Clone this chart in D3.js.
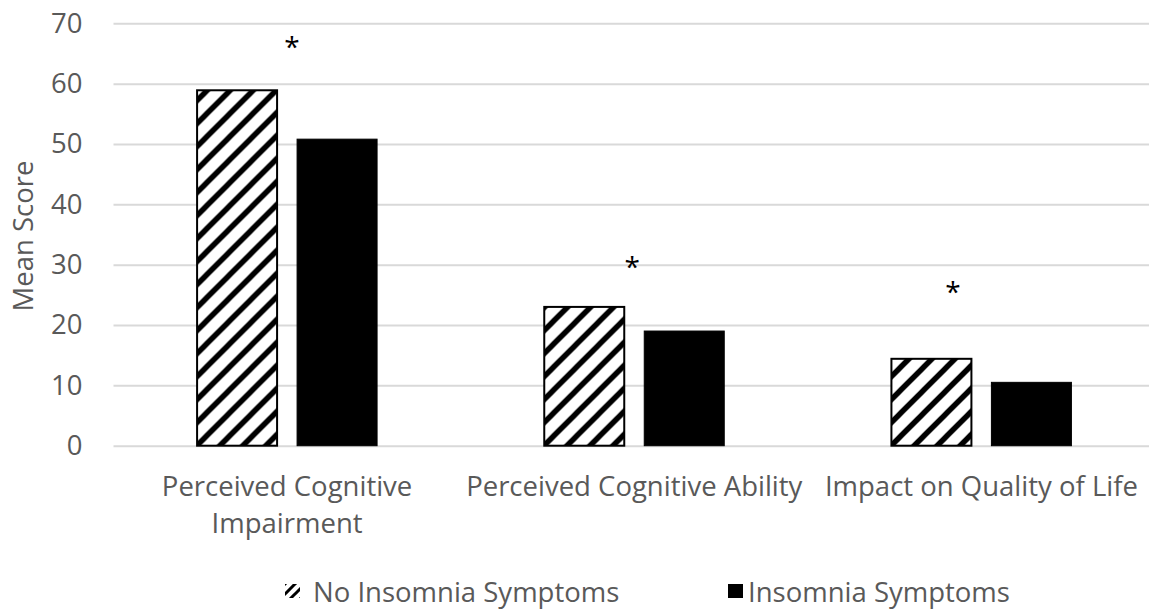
<!DOCTYPE html>
<html>
<head>
<meta charset="utf-8">
<script src="https://cdn.jsdelivr.net/npm/d3@7"></script>
<style>
  body { margin: 0; background: #fff; }
  text { font-family: "Open Sans", sans-serif; }
</style>
</head>
<body>
<svg class="BarChart" width="1149" height="609"></svg>
<script>
// values
var categories = ["Perceived Cognitive Impairment", "Perceived Cognitive Ability", "Impact on Quality of Life"];
var seriesNames = ["No Insomnia Symptoms", "Insomnia Symptoms"];
var noInsomnia = [58.9, 23.0, 14.4];
var insomnia = [50.8, 19.0, 10.5];
var yTicks = [0, 10, 20, 30, 40, 50, 60, 70];
var significant = [true, true, true];
var starValues = [67.2, 30.7, 26.6];

var meta = {};
meta['left'] = 113.5;
meta['right'] = 1155;
meta['top'] = 23.3;
meta['bottom'] = 445.7;
meta['font'] = '27.5px';

var svg = d3.select(".BarChart");

var defs = svg.append('defs');
var hatch = defs.append('pattern')
    .attr('id', 'hatch')
    .attr('patternUnits', 'userSpaceOnUse')
    .attr('width', 23)
    .attr('height', 23);
hatch.append('rect').attr('width', 23).attr('height', 23).attr('fill', '#fff');
hatch.append('path')
    .attr('d', 'M-6,6 L6,-6 M0,23 L23,0 M17,29 L29,17')
    .attr('stroke', '#000')
    .attr('stroke-width', 5.5);

var hatchSmall = defs.append('pattern')
    .attr('id', 'hatchSmall')
    .attr('patternUnits', 'userSpaceOnUse')
    .attr('width', 10)
    .attr('height', 10);
hatchSmall.append('rect').attr('width', 10).attr('height', 10).attr('fill', '#fff');
hatchSmall.append('path')
    .attr('d', 'M-3,3 L3,-3 M0,10 L10,0 M7,13 L13,7')
    .attr('stroke', '#000')
    .attr('stroke-width', 3);

const yScale = d3.scaleLinear()
    .domain([0, 70])
    .range([meta['bottom'], meta['top']]);

const xScale = d3.scaleBand()
    .domain(categories)
    .range([meta['left'], meta['right']]);

const innerScale = d3.scaleBand()
    .domain(seriesNames)
    .range([0, xScale.bandwidth()])
    .paddingInner(0.2)
    .paddingOuter(0.836);

// gridlines + tick labels
svg.append('g')
    .attr('class', 'y-axis')
    .attr('transform', `translate(${meta['left']},0)`)
    .call(d3.axisLeft(yScale)
        .tickValues(yTicks)
        .tickSize(-(meta['right'] - meta['left']))
        .tickPadding(31))
    .call(g => g.select('.domain').remove())
    .call(g => g.selectAll('.tick line').attr('stroke', '#d9d9d9').attr('stroke-width', 2))
    .call(g => g.selectAll('.tick text')
        .attr('fill', '#595959')
        .style('font-family', '"Open Sans", sans-serif')
        .style('font-size', meta['font']));

var rows = categories.map((c, i) => ({ cat: c, values: [noInsomnia[i], insomnia[i]] }));

var groups = svg.selectAll('.group')
    .data(rows)
    .enter()
    .append('g')
    .attr('class', 'group')
    .attr('transform', d => `translate(${xScale(d.cat)},0)`);

groups.selectAll('rect')
    .data(d => d.values.map((v, j) => ({ name: seriesNames[j], value: v })))
    .enter()
    .append('rect')
    .attr('x', d => innerScale(d.name))
    .attr('y', d => yScale(d.value))
    .attr('width', innerScale.bandwidth())
    .attr('height', d => yScale(0) - yScale(d.value))
    .attr('fill', d => d.name == seriesNames[0] ? 'url(#hatch)' : '#000')
    .attr('stroke', '#000')
    .attr('stroke-width', d => d.name == seriesNames[0] ? 2 : 1);

// significance stars, placed by hand like the original text boxes
var starShift = [0.014, -0.006, -0.082];
svg.selectAll('.star')
    .data(categories.filter((c, i) => significant[i]))
    .enter()
    .append('text')
    .attr('class', 'star')
    .attr('x', (d, i) => xScale(d) + xScale.bandwidth() * (0.5 + starShift[i]))
    .attr('y', (d, i) => yScale(starValues[i]) + 17)
    .attr('text-anchor', 'middle')
    .style('font-size', '28px')
    .attr('fill', '#000')
    .text('*');

// category labels, wrapped when wider than the band
var labels = svg.selectAll('.cat-label')
    .data(categories)
    .enter()
    .append('text')
    .attr('class', 'cat-label')
    .attr('text-anchor', 'middle')
    .attr('fill', '#595959')
    .style('font-size', meta['font'])
    .attr('y', 496);

labels.each(function(d) {
    var t = d3.select(this);
    var cx = xScale(d) + xScale.bandwidth() / 2;
    var words = d.split(' ');
    var lines = [];
    var line = [];
    var probe = t.append('tspan');
    words.forEach(w => {
        var test = line.concat([w]).join(' ');
        probe.text(test);
        if (probe.node().getComputedTextLength() > xScale.bandwidth() && line.length) {
            lines.push(line.join(' '));
            line = [w];
        } else {
            line.push(w);
        }
    });
    lines.push(line.join(' '));
    probe.remove();
    lines.forEach((l, k) => {
        t.append('tspan')
            .attr('x', cx)
            .attr('y', 496 + k * 37)
            .text(l);
    });
});

// y axis title
svg.append('text')
    .attr('transform', 'translate(33,236) rotate(-90)')
    .attr('text-anchor', 'middle')
    .attr('fill', '#595959')
    .style('font-size', meta['font'])
    .text('Mean Score');

// legend
var legendX = [285, 728];
var legend = svg.selectAll('.legend')
    .data(seriesNames)
    .enter()
    .append('g')
    .attr('class', 'legend')
    .attr('transform', (d, i) => `translate(${legendX[i]},584)`);

legend.append('rect')
    .attr('width', 15)
    .attr('height', 14)
    .attr('fill', (d, i) => i == 0 ? 'url(#hatchSmall)' : '#000');

legend.append('text')
    .attr('x', (d, i) => i == 0 ? 28 : 20)
    .attr('y', 18)
    .attr('fill', '#595959')
    .style('font-size', meta['font'])
    .text(d => d);
</script>
</body>
</html>
